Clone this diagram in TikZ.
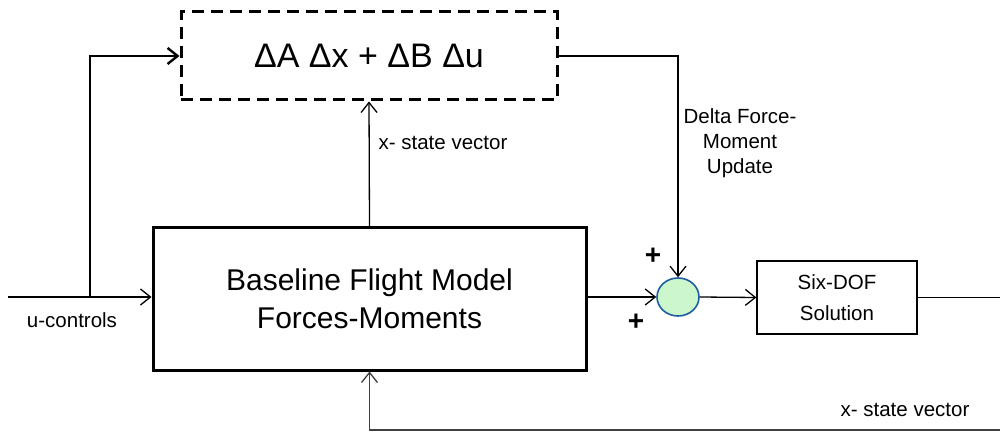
\documentclass[tikz,border=0pt]{standalone}
\usepackage{fontspec}
\setmainfont{Liberation Sans}
\usetikzlibrary{arrows.meta,shapes.geometric}
\definecolor{sumfill}{HTML}{CCF7CC}
\definecolor{sumdraw}{HTML}{1F5F9F}
\tikzset{
  arr/.style={line width=0.65pt,-{Straight Barb[length=5pt,width=8pt,line width=0.65pt]}},
  thickarr/.style={line width=1.2pt,-{Straight Barb[length=5pt,width=8pt,line width=1.2pt]}},
  small/.style={font=\fontsize{10.25}{12.5}\selectfont},
  dashbox/.style={draw,line width=1.5pt,dash pattern=on 6pt off 3.5pt,minimum width=188pt,minimum height=44pt,inner sep=0pt},
  mainbox/.style={draw,line width=1.5pt,minimum width=216.5pt,minimum height=71pt,align=center,inner sep=0pt,font=\fontsize{15}{19}\selectfont},
  sixbox/.style={draw,line width=0.65pt,minimum width=80pt,minimum height=36.5pt,align=center,inner sep=0pt,font=\fontsize{10.25}{15.5}\selectfont},
  sumnode/.style={ellipse,draw=sumdraw,fill=sumfill,line width=0.8pt,minimum width=21pt,minimum height=19pt,inner sep=0pt},
  plus/.style={font=\fontsize{14}{15}\bfseries\selectfont,inner sep=0pt}
}
\begin{document}
\begin{tikzpicture}[x=0.5pt,y=-0.5pt]
\useasboundingbox (0,0) rectangle (1000,432);
\node[dashbox] (dbox) at (369,56) {\fontsize{17}{20}\selectfont ΔA Δx + ΔB Δu};
\node[mainbox] (main) at (369.5,299) {Baseline Flight Model\\Forces-Moments};
\node[sumnode] (sum) at (678,297) {};
\node[sixbox] (six) at (837,297.5) {Six-DOF\\Solution};
\coordinate (uin) at (8,297);
\coordinate (br) at (90,297);
\coordinate (out) at (1000,297.5);
\coordinate (fb) at (1000,430);
\draw[arr] (uin) -- (uin -| main.west);
\draw[thickarr] (br) |- (dbox.west);
\draw[arr] (main.north) -- (dbox.south);
\draw[arr] (dbox.east) -| (sum.north);
\draw[arr] (main.east |- sum) -- (sum.west);
\draw[arr] (sum.east) -- (six.west);
\draw[line width=0.65pt] (six.east) -- (out);
\draw[arr,draw=black!75] (fb) -| (main.south);
\node[small] (ulab) at (72,320) {u-controls};
\node[small] (xlab) at (443,143) {x- state vector};
\node[small,align=center] (dlab) at (740,143) {Delta Force-\\Moment\\Update};
\node[small] (xlab2) at (905,410) {x- state vector};
\node[plus] (p1) at (653,256) {+};
\node[plus] (p2) at (636,322) {+};
\end{tikzpicture}
\end{document}
